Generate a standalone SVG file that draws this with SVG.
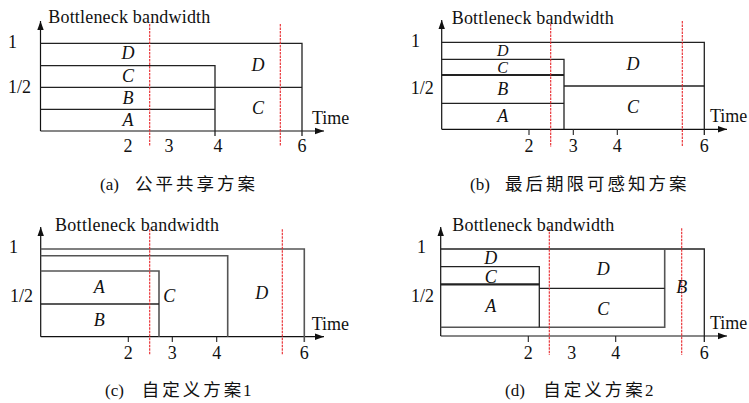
<svg xmlns="http://www.w3.org/2000/svg" width="749" height="403" viewBox="0 0 749 403" font-family="'Liberation Serif', 'DejaVu Serif', serif">
<defs>
<marker id="arr" markerUnits="userSpaceOnUse" markerWidth="10" markerHeight="8" refX="9" refY="4" orient="auto">
<path d="M0,0.8 L9,4 L0,7.2 Z" fill="#111"/>
</marker>
</defs>
<style>
.ax{stroke:#111;stroke-width:1.2;fill:none;marker-end:url(#arr)}
.bx{stroke:#222;stroke-width:1.3;fill:none}
.gx{stroke:#555;stroke-width:1.6;fill:none}
.tk{stroke:#222;stroke-width:1.1;fill:none}
.rd{stroke:#e8262b;stroke-width:1.1;stroke-dasharray:2.5,1;fill:none}
text{font-family:'Liberation Serif','DejaVu Serif',serif;font-size:18px;fill:#111}
.lb{font-style:italic;text-anchor:middle;font-size:18px}
.n{text-anchor:middle}
.cap{font-size:17px}
.zh{font-family:'Noto Sans CJK SC',sans-serif;font-size:17.5px;letter-spacing:3px}
</style>
<rect width="749" height="403" fill="#fff"/>

<g id="panel-a">
<path class="ax" d="M40.5,131 V21"/>
<path class="ax" d="M40.5,131 H324"/>
<path class="bx" d="M40.5,43.3 H302 V136"/>
<path class="bx" d="M40.5,65.7 H215 V136"/>
<path class="bx" d="M40.5,87.3 H302"/>
<path class="bx" d="M40.5,109.3 H215"/>
<path class="rd" d="M149.7,24 V146"/>
<path class="rd" d="M280.3,24 V146"/>
<text x="48.3" y="23.3" textLength="162" lengthAdjust="spacing">Bottleneck bandwidth</text>
<text x="8" y="48">1</text>
<text x="8" y="93">1/2</text>
<text x="312" y="124">Time</text>
<text class="lb" x="128" y="59">D</text>
<text class="lb" x="128" y="82">C</text>
<text class="lb" x="128" y="104">B</text>
<text class="lb" x="128" y="126">A</text>
<text class="lb" x="258" y="71">D</text>
<text class="lb" x="258" y="114">C</text>
<text class="n" x="128" y="151.7">2</text>
<text class="n" x="169" y="151.7">3</text>
<text class="n" x="218" y="151.7">4</text>
<text class="n" x="302" y="151.7">6</text>
<text class="cap" x="100" y="190">(a)<tspan class="zh" x="135">公平共享方案</tspan></text>
</g>

<g id="panel-b">
<path class="ax" d="M441.7,129.3 V20"/>
<path class="ax" d="M441.7,129.3 H727"/>
<path class="bx" d="M441.7,42.3 H704.3 V135"/>
<path class="bx" d="M441.7,59.3 H564 V129.3"/>
<path class="bx" style="stroke-width:2.2" d="M441.7,75 H564"/>
<path class="bx" d="M564,86 H704.3"/>
<path class="bx" d="M441.7,103.3 H564"/>
<path class="tk" d="M529,129.3 V135 M573.3,129.3 V135 M617.3,129.3 V135"/>
<path class="rd" d="M550.7,24 V147"/>
<path class="rd" d="M682.3,21 V147"/>
<text x="451.7" y="24" textLength="162" lengthAdjust="spacing">Bottleneck bandwidth</text>
<text x="411" y="46.7">1</text>
<text x="410.7" y="94">1/2</text>
<text x="710" y="121.7">Time</text>
<text class="lb" x="502.7" y="56" style="font-size:16px">D</text>
<text class="lb" x="502.7" y="72.5" style="font-size:16px">C</text>
<text class="lb" x="502.7" y="95">B</text>
<text class="lb" x="502.7" y="121.5">A</text>
<text class="lb" x="633" y="70">D</text>
<text class="lb" x="633" y="112.5">C</text>
<text class="n" x="529" y="151.7">2</text>
<text class="n" x="573.3" y="151.7">3</text>
<text class="n" x="617.3" y="151.7">4</text>
<text class="n" x="704.3" y="151.7">6</text>
<text class="cap" x="470" y="190">(b)<tspan class="zh" x="505">最后期限可感知方案</tspan></text>
</g>

<g id="panel-c">
<path class="ax" d="M40.7,336.7 V227"/>
<path class="ax" d="M40.7,336.7 H324"/>
<path class="gx" d="M40.7,249 H304.3 V342"/>
<path class="gx" d="M40.7,255.7 H227.7 V336.7"/>
<path class="gx" d="M40.7,271 H159 V336.7"/>
<path class="bx" d="M40.7,304 H159"/>
<path class="tk" d="M128.3,336.7 V342 M172.3,336.7 V342 M216.7,336.7 V342"/>
<path class="rd" d="M149.7,229.3 V355"/>
<path class="rd" d="M282.3,229.3 V355"/>
<text x="55" y="230.7" textLength="164" lengthAdjust="spacing">Bottleneck bandwidth</text>
<text x="9" y="253.3">1</text>
<text x="10" y="301.7">1/2</text>
<text x="311.7" y="330">Time</text>
<text class="lb" x="99.3" y="293.3">A</text>
<text class="lb" x="99.3" y="326">B</text>
<text class="lb" x="169.3" y="301.7">C</text>
<text class="lb" x="261.7" y="299.3">D</text>
<text class="n" x="128.3" y="359.3">2</text>
<text class="n" x="172.3" y="359.3">3</text>
<text class="n" x="216.7" y="359.3">4</text>
<text class="n" x="304.3" y="359.3">6</text>
<text class="cap" x="105" y="396">(c)<tspan class="zh" x="141.7">自定义方案</tspan><tspan x="243">1</tspan></text>
</g>

<g id="panel-d">
<path class="ax" d="M440.7,336 V227"/>
<path class="ax" d="M440.7,336 H727"/>
<path class="bx" d="M440.7,249 H704.3 V342"/>
<path class="gx" d="M664.7,249 V327.3 H440.7"/>
<path class="bx" d="M440.7,266.7 H539.3 V327.3"/>
<path class="bx" style="stroke-width:2.2" d="M440.7,284.3 H539.3"/>
<path class="bx" d="M539.3,288.3 H664.7"/>
<path class="tk" d="M528.3,336 V342 M615.7,336 V342"/>
<path class="rd" d="M549.3,228.3 V355"/>
<path class="rd" d="M681.7,228.3 V355"/>
<text x="452.3" y="230.7" textLength="162" lengthAdjust="spacing">Bottleneck bandwidth</text>
<text x="417" y="253.3">1</text>
<text x="411" y="301.7">1/2</text>
<text x="710" y="329.3">Time</text>
<text class="lb" x="490.7" y="264">D</text>
<text class="lb" x="490.7" y="282.5">C</text>
<text class="lb" x="490.7" y="311.7">A</text>
<text class="lb" x="603.3" y="275">D</text>
<text class="lb" x="603.3" y="314.5">C</text>
<text class="lb" x="681.7" y="293.3">B</text>
<text class="n" x="528.3" y="359.3">2</text>
<text class="n" x="571.7" y="359.3">3</text>
<text class="n" x="615.7" y="359.3">4</text>
<text class="n" x="704.3" y="359.3">6</text>
<text class="cap" x="505" y="396">(d)<tspan class="zh" x="543.3">自定义方案</tspan><tspan x="645">2</tspan></text>
</g>
</svg>
